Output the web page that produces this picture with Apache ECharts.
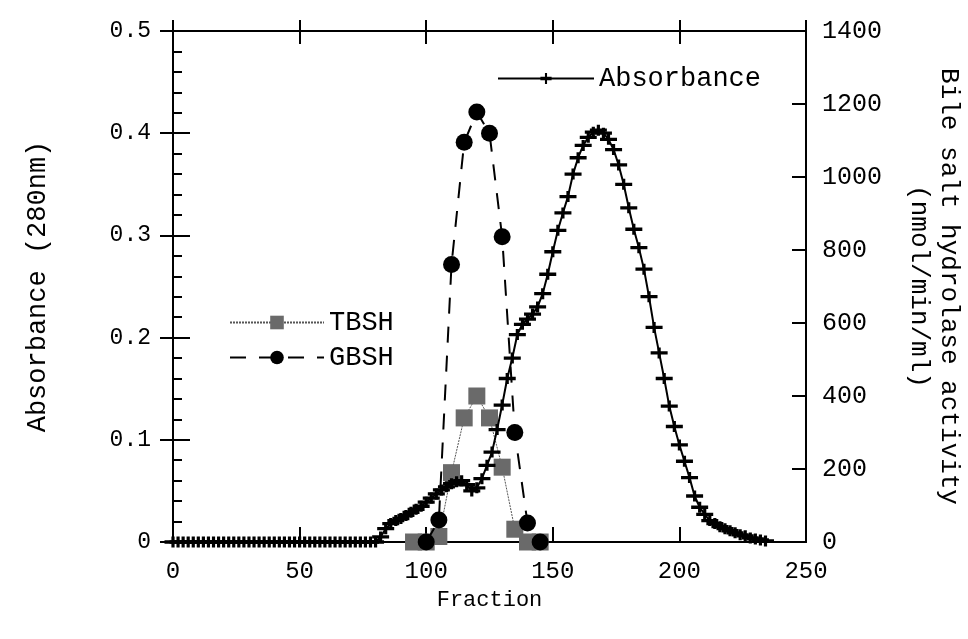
<!DOCTYPE html>
<html><head><meta charset="utf-8">
<script src="https://cdn.jsdelivr.net/npm/echarts@6/dist/echarts.min.js"></script>
<style>html,body{margin:0;padding:0;background:#fff}#c{width:968px;height:639px}</style>
</head><body><div id="c"></div>
<script>
// Absorbance (280 nm), left axis
const absFractions = [0,2,4,6,8,10,12,14,16,18,20,22,24,26,28,30,32,34,36,38,40,42,44,46,48,50,52,54,56,58,60,62,64,66,68,70,72,74,76,78,
  80,82,84,86,88,90,92,94,96,98,100,102,104,106,108,110,112,114,116,118,120,122,124,126,128,130,132,134,136,138,140,142,144,146,148,150,
  152,154,156,158,160,162,164,166,168,170,172,174,176,178,180,182,184,186,188,190,192,194,196,198,200,202,204,206,208,210,212,214,216,218,
  220,222,224,226,228,230,232,234];
const absorbance = [0,0,0,0,0,0,0,0,0,0,0,0,0,0,0,0,0,0,0,0,0,0,0,0,0,0,0,0,0,0,0,0,0,0,0,0,0,0,0,0,
  0.000,0.005,0.013,0.018,0.021,0.023,0.026,0.029,0.032,0.035,0.039,0.043,0.047,0.051,0.054,0.057,0.059,0.060,0.056,0.050,0.053,0.062,0.075,0.088,0.110,0.134,
  0.160,0.180,0.203,0.213,0.218,0.223,0.230,0.243,0.262,0.284,0.305,0.322,0.338,0.360,0.376,0.388,0.396,0.401,0.403,0.400,0.394,0.384,0.369,0.350,
  0.327,0.306,0.288,0.267,0.240,0.210,0.185,0.160,0.133,0.113,0.095,0.079,0.063,0.045,0.034,0.027,0.021,0.018,0.015,0.013,0.011,0.009,0.007,0.006,
  0.004,0.003,0.002,0.001];
// Bile salt hydrolase activity (nmol/min/ml), right axis
const tbshFractions = [95,100,105,110,115,120,125,130,135,140,145];
const tbsh = [0,0,15,190,340,400,340,205,35,0,0];
const gbshFractions = [100,105,110,115,120,125,130,135,140,145];
const gbsh = [0,60,760,1095,1178,1120,836,300,52,0];

const FONT = 'Liberation Mono';
const zip = (xs, ys) => xs.map((x, i) => [x, ys[i]]);
const plus = 'path://M0,3.5H16V6.5H0Z M6.5,0H9.5V10H6.5Z';
const tickStyle = {color: '#000', width: 2};
const box = {left: 173, right: 162, top: 31, bottom: 97, containLabel: false, outerBoundsMode: 'none'};

const chart = echarts.init(document.getElementById('c'), null, {renderer: 'canvas'});
chart.setOption({
  animation: false,
  backgroundColor: '#fff',
  grid: [Object.assign({}, box), Object.assign({}, box), Object.assign({}, box)],
  legend: [
    {data: ['Absorbance'], left: 497, top: 65, padding: 0, itemWidth: 96, itemHeight: 14,
     textStyle: {fontFamily: FONT, fontSize: 27, color: '#000'}},
    {data: ['TBSH'], left: 229, top: 309, padding: 0, itemWidth: 94, itemHeight: 17,
     textStyle: {fontFamily: FONT, fontSize: 27, color: '#000'}},
    {data: ['GBSH'], left: 229, top: 344, padding: 0, itemWidth: 94, itemHeight: 17,
     textStyle: {fontFamily: FONT, fontSize: 27, color: '#000'}}
  ],
  xAxis: [
    {type: 'value', gridIndex: 0, position: 'bottom', min: 0, max: 250, interval: 50,
     name: 'Fraction', nameLocation: 'middle', nameGap: 47,
     nameTextStyle: {fontFamily: FONT, fontSize: 22, color: '#000'},
     axisLine: {show: true, onZero: false, lineStyle: tickStyle},
     axisTick: {show: true, inside: true, length: 15, lineStyle: tickStyle},
     axisLabel: {fontFamily: FONT, fontSize: 24, color: '#000', margin: 18},
     splitLine: {show: false}},
    {type: 'value', gridIndex: 1, position: 'top', min: 0, max: 250, interval: 50,
     axisLine: {show: true, onZero: false, lineStyle: tickStyle},
     axisTick: {show: true, inside: true, length: 13, lineStyle: tickStyle},
     axisLabel: {show: false}, splitLine: {show: false}},
    {type: 'value', gridIndex: 2, position: 'top', min: 0, max: 250, interval: 50,
     axisLine: {show: false, onZero: false},
     axisTick: {show: true, inside: false, length: 11, lineStyle: tickStyle},
     axisLabel: {show: false}, splitLine: {show: false}}
  ],
  yAxis: [
    {type: 'value', gridIndex: 0, position: 'left', min: 0, max: 0.5, interval: 0.1,
     name: 'Absorbance (280nm)', nameLocation: 'middle', nameGap: 122, nameRotate: 90,
     nameTextStyle: {fontFamily: FONT, fontSize: 27, color: '#000'},
     axisLine: {show: true, onZero: false, lineStyle: tickStyle},
     axisTick: {show: true, inside: true, length: 17, lineStyle: tickStyle},
     minorTick: {show: true, splitNumber: 5, length: 9, lineStyle: tickStyle},
     axisLabel: {fontFamily: FONT, fontSize: 23, color: '#000', margin: 22},
     splitLine: {show: false}, minorSplitLine: {show: false}},
    {type: 'value', gridIndex: 0, position: 'right', min: 0, max: 1400, interval: 200,
     name: 'Bile salt hydrolase activity\n(nmol/min/ml)', nameLocation: 'middle', nameGap: 98, nameRotate: -90,
     nameTextStyle: {fontFamily: FONT, fontSize: 26, color: '#000', lineHeight: 30},
     axisLine: {show: true, onZero: false, lineStyle: tickStyle},
     axisTick: {show: true, inside: true, length: 14, lineStyle: tickStyle},
     axisLabel: {fontFamily: FONT, fontSize: 25, color: '#000', margin: 16, formatter: v => String(v)},
     splitLine: {show: false}},
    {type: 'value', gridIndex: 0, position: 'left', min: 0, max: 0.5, interval: 0.1,
     axisLine: {show: false, onZero: false},
     axisTick: {show: true, inside: false, length: 13, lineStyle: tickStyle},
     axisLabel: {show: false}, splitLine: {show: false}},
    {type: 'value', gridIndex: 1, position: 'right', min: 0, max: 1400, interval: 200,
     axisLine: {show: true, onZero: false, lineStyle: tickStyle},
     axisTick: {show: true, inside: true, length: 14, lineStyle: tickStyle},
     axisLabel: {show: false}, splitLine: {show: false}},
    {type: 'value', gridIndex: 2, min: 0, max: 1, show: false}
  ],
  series: [
    {name: 'TBSH', type: 'line', xAxisIndex: 0, yAxisIndex: 1, data: zip(tbshFractions, tbsh),
     symbol: 'rect', symbolSize: 17, showAllSymbol: true,
     itemStyle: {color: '#6a6a6a'},
     lineStyle: {color: '#555', width: 1, type: [2, 1]}, z: 2},
    {name: 'GBSH', type: 'line', xAxisIndex: 0, yAxisIndex: 1, data: zip(gbshFractions, gbsh),
     symbol: 'circle', symbolSize: 17, showAllSymbol: true,
     itemStyle: {color: '#000'},
     lineStyle: {color: '#000', width: 2, type: [16, 13]}, z: 3},
    {name: 'Absorbance', type: 'line', xAxisIndex: 0, yAxisIndex: 0, data: zip(absFractions, absorbance),
     symbol: plus, symbolSize: [17, 11], symbolKeepAspect: false, showAllSymbol: true,
     itemStyle: {color: '#000'},
     lineStyle: {color: '#000', width: 2}, z: 4}
  ]
});
</script>
</body></html>
